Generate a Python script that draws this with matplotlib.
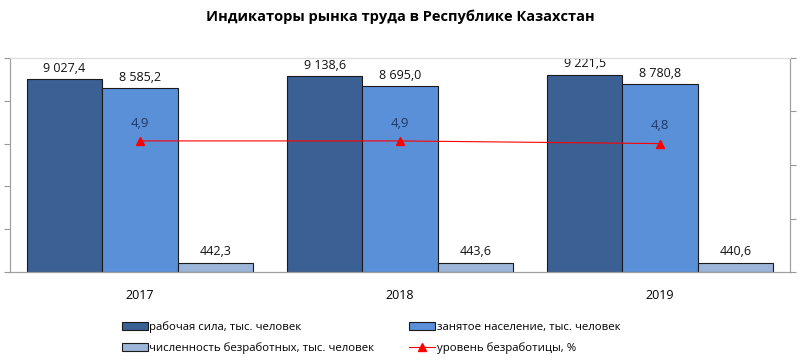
import matplotlib
matplotlib.use('Agg')
import matplotlib.pyplot as plt
import numpy as np

# Data
years = ['2017', '2018', '2019']
labor_force = [9027.4, 9138.6, 9221.5]
employed = [8585.2, 8695.0, 8780.8]
unemployed = [442.3, 443.6, 440.6]
unemp_rate = [4.9, 4.9, 4.8]

labor_lbl = ['9 027,4', '9 138,6', '9 221,5']
employed_lbl = ['8 585,2', '8 695,0', '8 780,8']
unemployed_lbl = ['442,3', '443,6', '440,6']
rate_lbl = ['4,9', '4,9', '4,8']

plt.rcParams['font.family'] = ['Open Sans', 'DejaVu Sans']

fig = plt.figure(figsize=(8, 3.62), dpi=100)
ax = fig.add_axes([0.0125, 0.2486, 0.975, 0.5912])
ax2 = ax.twinx()

x = np.arange(len(years))
w = 0.29
c_dark = '#3A6094'
c_mid = '#5A90D8'
c_light = '#9CB5D9'

b1 = ax.bar(x - w, labor_force, w, color=c_dark, edgecolor='#1a1a1a', linewidth=0.8,
            label='рабочая сила, тыс. человек')
b2 = ax.bar(x, employed, w, color=c_mid, edgecolor='#1a1a1a', linewidth=0.8,
            label='занятое население, тыс. человек')
b3 = ax.bar(x + w, unemployed, w, color=c_light, edgecolor='#1a1a1a', linewidth=0.8,
            label='численность безработных, тыс. человек')

for bars, lbls in [(b1, labor_lbl), (b2, employed_lbl), (b3, unemployed_lbl)]:
    for b, t in zip(bars, lbls):
        ax.annotate(t, (b.get_x() + b.get_width() / 2, b.get_height()),
                    xytext=(0, 3), textcoords='offset points',
                    ha='center', va='bottom', fontsize=9, color='#111111')

ln, = ax2.plot(x, unemp_rate, color='#FF0000', linewidth=0.8, marker='^',
               markersize=6, label='уровень безработицы, %')
for xi, v, t in zip(x, unemp_rate, rate_lbl):
    ax2.annotate(t, (xi, v), xytext=(0, 8), textcoords='offset points',
                 ha='center', va='bottom', fontsize=9.5, color='#1F3864')

ax.set_xlim(-0.5, 2.5)
ax.set_ylim(0, 10000)
ax2.set_ylim(0, 8)
ax.set_yticks(np.arange(0, 10001, 2000))
ax2.set_yticks(np.arange(0, 8.1, 2))
ax.set_yticklabels([])
ax2.set_yticklabels([])
ax.set_xticks(x)
ax.set_xticklabels(years, fontsize=9)
ax.tick_params(axis='x', length=0, pad=12)
ax.tick_params(axis='y', direction='out', length=4, color='#999999')
ax2.tick_params(axis='y', direction='out', length=4, color='#999999')

for a in (ax, ax2):
    for s in a.spines.values():
        s.set_color('#A0A0A0')
        s.set_linewidth(0.8)
ax.spines['top'].set_color('#DDDDDD')
ax2.spines['top'].set_color('#DDDDDD')

fig.suptitle('Индикаторы рынка труда в Республике Казахстан', fontsize=10.5,
             fontweight='bold', y=0.975)

fig.legend([b1, b3, b2, ln],
           ['рабочая сила, тыс. человек', 'численность безработных, тыс. человек',
            'занятое население, тыс. человек', 'уровень безработицы, %'],
           ncol=2, loc='upper left', bbox_to_anchor=(0.152, 0.113),
           frameon=False, fontsize=8.2, handlelength=2.3, handleheight=0.65,
           handletextpad=0.1, columnspacing=3.1, labelspacing=0.8,
           borderaxespad=0, borderpad=0)

fig.savefig('out.png', dpi=100)
